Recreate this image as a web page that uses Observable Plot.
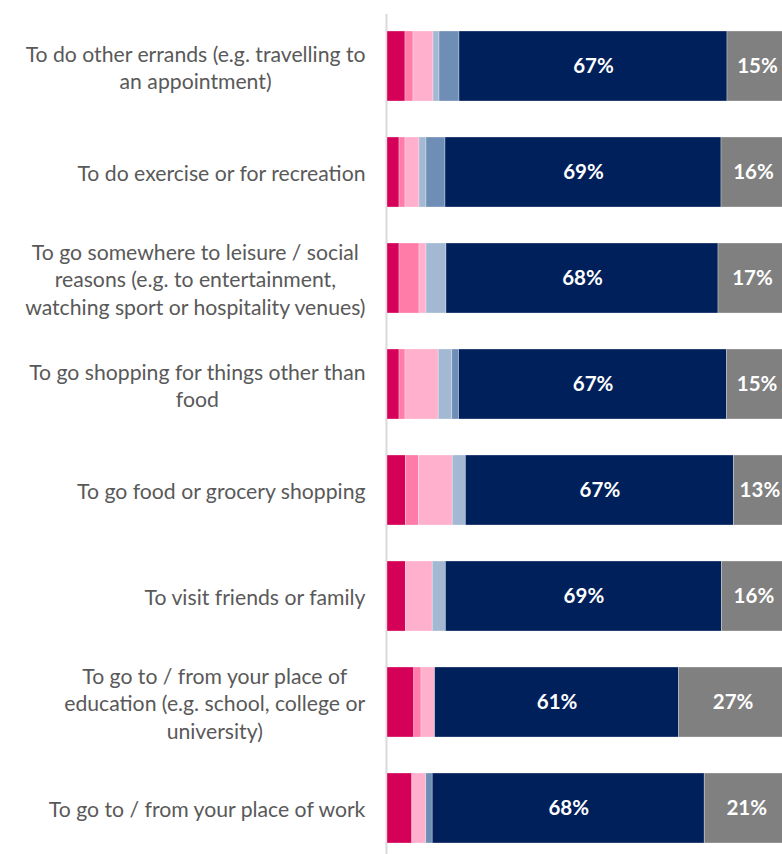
<!DOCTYPE html>
<html>
<head>
<meta charset="utf-8">
<script src="https://cdn.jsdelivr.net/npm/d3@7"></script>
<script src="https://cdn.jsdelivr.net/npm/@observablehq/plot@0.6"></script>
<style>
  html, body { margin: 0; padding: 0; background: #fff; overflow: hidden; }
  #chart svg { display: block; }
</style>
</head>
<body>
<div id="chart"></div>
<script>
const categories = [
  "To do other errands (e.g. travelling to\nan appointment)",
  "To do exercise or for recreation",
  "To go somewhere to leisure / social\nreasons (e.g. to entertainment,\nwatching sport or hospitality venues)",
  "To go shopping for things other than\nfood",
  "To go food or grocery shopping",
  "To visit friends or family",
  "To go to / from your place of\neducation (e.g. school, college or\nuniversity)",
  "To go to / from your place of work"
];
const seriesNames = ["seg1", "seg2", "seg3", "seg4", "seg5", "seg6", "seg7"];
const seg1 = [4.5, 3, 3, 3, 4.6, 4.6, 6.7, 6.2];
const seg2 = [2, 1.5, 5, 1.5, 3.3, 0, 1.8, 0];
const seg3 = [5, 3.5, 1.75, 8.3, 8.4, 6.7, 3.4, 3.5];
const seg4 = [1.5, 1.75, 5, 3.4, 3.3, 3.3, 0, 0];
const seg5 = [5, 4.75, 0, 1.7, 0, 0, 0, 1.6];
const seg6 = [67, 69, 68, 67, 67, 69, 61, 68];
const seg7 = [15, 16, 17, 15, 13, 16, 27, 21];
const colors = ["#D50057", "#FF7BA8", "#FFB0CC", "#A3B8D3", "#6E8EB6", "#00205B", "#808080"];
const labelled = ["seg6", "seg7"];

const seriesValues = [seg1, seg2, seg3, seg4, seg5, seg6, seg7];
const data = [];
categories.forEach((c, i) => {
  seriesNames.forEach((s, j) => {
    data.push({category: c, series: s, value: seriesValues[j][i]});
  });
});

const chart = Plot.plot({
  width: 782,
  height: 854,
  marginLeft: 387,
  marginRight: -5,
  marginTop: 20,
  marginBottom: 0,
  style: {fontFamily: "Lato, sans-serif"},
  x: {domain: [0, 100], axis: null},
  y: {domain: categories, paddingInner: 0.34, paddingOuter: 0.1, label: null},
  color: {domain: seriesNames, range: colors},
  marks: [
    Plot.ruleX([0], {stroke: "#d9d9d9", strokeWidth: 2, dx: -1, insetTop: -6}),
    Plot.barX(data, Plot.stackX({
      x: "value", y: "category", fill: "series", order: seriesNames,
      stroke: "white", strokeWidth: 0.6, strokeOpacity: 0.5
    })),
    Plot.text(data, Plot.stackX({
      x: "value", y: "category", z: "series", order: seriesNames,
      text: d => labelled.includes(d.series) ? `${Math.round(d.value)}%` : "",
      fill: "white", fontWeight: "bold", fontSize: 20.5
    })),
    Plot.axisY({
      tickSize: 0, tickPadding: 22, fontSize: 21.2, lineHeight: 1.3,
      fill: "#595959", label: null
    })
  ]
});
document.getElementById("chart").append(chart);

// Centre the lines of each wrapped label within its right-aligned block
const axisTexts = chart.querySelectorAll('g[aria-label="y-axis tick label"] text');
axisTexts.forEach(t => {
  const w = t.getBBox().width;
  t.setAttribute("text-anchor", "middle");
  const tr = t.getAttribute("transform") || "";
  t.setAttribute("transform", `translate(${-w / 2},0) ${tr}`);
});
</script>
</body>
</html>
